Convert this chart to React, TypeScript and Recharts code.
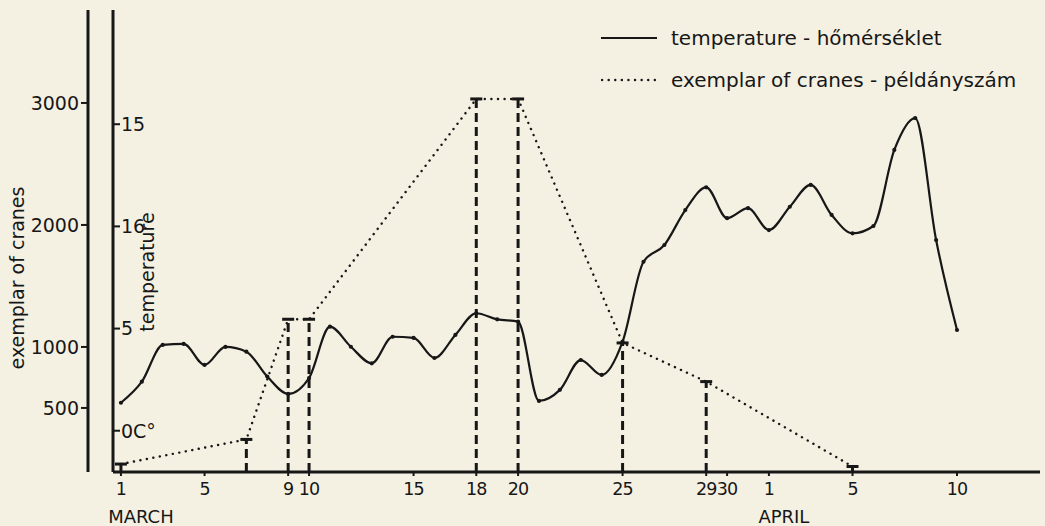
import React from 'react';
import { LineChart, Line, XAxis, YAxis, ReferenceLine, Legend, Label } from 'recharts';

// ---- data ----
const days = [1, 2, 3, 4, 5, 6, 7, 8, 9, 10, 11, 12, 13, 14, 15, 16, 17, 18, 19, 20, 21, 22, 23, 24, 25, 26, 27, 28, 29, 30, 31, 32, 33, 34, 35, 36, 37, 38, 39, 40, 41];
const temperature = [1.37, 2.4, 4.2, 4.25, 3.22, 4.1, 3.87, 2.65, 1.8, 2.58, 5.09, 4.11, 3.3, 4.6, 4.54, 3.56, 4.69, 5.75, 5.45, 5.34, 1.46, 2.0, 3.46, 2.73, 4.36, 8.27, 9.09, 10.8, 11.91, 10.4, 10.89, 9.82, 10.96, 12.03, 10.56, 9.66, 10.02, 13.74, 15.3, 9.33, 4.93];
const craneDays = [1, 7, 9, 10, 18, 20, 25, 29, 36];
const craneCounts = [40, 242, 1227, 1227, 3033, 3033, 1033, 716, 20];

const xTicks = [1, 5, 9, 10, 15, 18, 20, 25, 29, 30, 32, 36, 41];
const xTickLabels = ['1', '5', '9', '10', '15', '18', '20', '25', '29', '30', '1', '5', '10'];
const monthTickDays = [1, 32];
const monthLabels = ['MARCH', 'APRIL'];
const craneTicks = [500, 1000, 2000, 3000];
const tempTicks = [0, 5, 10, 15];
const tempTickLabels = ['0C°', '5', '16', '15'];
const seriesNames = ['temperature - hőmérséklet', 'exemplar of cranes - példányszám'];
const axisTitles = ['exemplar of cranes', 'temperature'];

// ---- domains / styling ----
const X_DOMAIN: [number, number] = [0.62, 44.97];
const CRANE_DOMAIN: [number, number] = [-25, 3762];
const TEMP_DOMAIN: [number, number] = [-2.02, 20.59];
const INK = '#171717';
const BG = '#f4f0e2';
const FONT = '"DejaVu Sans", sans-serif';
const FS = 19;
const TEMP_ID = 'a_temp';
const CRANE_ID = 'b_crane';

const tempData = days.map((d, i) => ({ day: d, t: temperature[i] }));
const craneData = craneDays.map((d, i) => ({ day: d, c: craneCounts[i] }));

const XTick = (p: any) => {
  const { x, y, payload } = p;
  const i = xTicks.indexOf(payload.value);
  const m = monthTickDays.indexOf(payload.value);
  return (
    <g>
      <text x={x} y={y} dy="0.72em" textAnchor="middle" fontSize={17.5} letterSpacing={-0.9} fontFamily={FONT} fill={INK}>
        {xTickLabels[i]}
      </text>
      {m >= 0 && (
        <text x={x + (m === 0 ? 20 : 15)} y={y + 41} textAnchor="middle" fontSize={18} fontFamily={FONT} fill={INK}>
          {monthLabels[m]}
        </text>
      )}
    </g>
  );
};

const TempTick = (p: any) => {
  const { x, y, payload } = p;
  const i = tempTicks.indexOf(payload.value);
  return (
    <g>
      <line x1={x} x2={x + 7} y1={y} y2={y} stroke={INK} strokeWidth={2} />
      <text x={x + 8} y={y} dy="0.36em" textAnchor="start" fontSize={FS} fontFamily={FONT} fill={INK}>
        {tempTickLabels[i]}
      </text>
    </g>
  );
};

const CraneDot = (p: any) => {
  const { cx, cy, index } = p;
  if (cx == null || cy == null) return <g key={`cd-${index}`} />;
  return <line key={`cd-${index}`} x1={cx - 6} x2={cx + 6} y1={cy} y2={cy} stroke={INK} strokeWidth={3} />;
};

const TempDot = (p: any) => {
  const { cx, cy, index } = p;
  if (cx == null || cy == null) return <g key={`td-${index}`} />;
  return <circle key={`td-${index}`} cx={cx} cy={cy} r={2.1} fill={INK} />;
};

const LegendContent = () => (
  <div style={{ fontFamily: FONT, fontSize: 20, color: INK }}>
    {seriesNames.map((n, i) => (
      <div key={n} style={{ display: 'flex', alignItems: 'center', height: 42, whiteSpace: 'nowrap' }}>
        <svg width={58} height={10} style={{ marginRight: 12 }}>
          {i === 0 ? (
            <line x1={0} x2={56} y1={5} y2={5} stroke={INK} strokeWidth={2.2} />
          ) : (
            <line x1={1} x2={57} y1={5} y2={5} stroke={INK} strokeWidth={2.4} strokeDasharray="0.1 6.5" strokeLinecap="round" />
          )}
        </svg>
        <span>{n}</span>
      </div>
    ))}
  </div>
);

export default function App() {
  return (
    <div style={{ position: 'absolute', left: 0, top: 0, width: 1045, height: 526, background: BG }}>
      <LineChart width={1045} height={526} margin={{ top: 10, right: 5, bottom: 0, left: 0 }}>
        <XAxis
          dataKey="day"
          type="number"
          domain={X_DOMAIN}
          ticks={xTicks}
          interval={0}
          allowDataOverflow
          height={54}
          axisLine={{ stroke: INK, strokeWidth: 3 }}
          tickLine={{ stroke: INK, strokeWidth: 2 }}
          tickSize={4}
          tickMargin={6}
          tick={<XTick />}
        />
        <YAxis
          yAxisId={TEMP_ID}
          orientation="left"
          type="number"
          domain={TEMP_DOMAIN}
          ticks={tempTicks}
          interval={0}
          allowDataOverflow
          width={25}
          axisLine={{ stroke: INK, strokeWidth: 3 }}
          tickLine={false}
          tickSize={0}
          tickMargin={0}
          tick={<TempTick />}
        >
          <Label
            content={(p: any) => {
              const vb = p.viewBox || { x: 88, y: 10, width: 25, height: 462 };
              const cx = vb.x + vb.width + 34;
              const cy = vb.y + vb.height / 2 + 31;
              return (
                <text x={cx} y={cy} transform={`rotate(-90 ${cx} ${cy})`} textAnchor="middle" dominantBaseline="central" fontSize={FS} fontFamily={FONT} fill={INK}>
                  {axisTitles[1]}
                </text>
              );
            }}
          />
        </YAxis>
        <YAxis
          yAxisId={CRANE_ID}
          orientation="left"
          type="number"
          domain={CRANE_DOMAIN}
          ticks={craneTicks}
          interval={0}
          allowDataOverflow
          width={88}
          axisLine={{ stroke: INK, strokeWidth: 3 }}
          tickLine={{ stroke: INK, strokeWidth: 2 }}
          tickSize={7}
          tickMargin={2}
          tick={{ fontSize: FS, fontFamily: FONT, fill: INK }}
        >
          <Label
            content={(p: any) => {
              const vb = p.viewBox || { x: 0, y: 10, width: 88, height: 462 };
              const cx = vb.x + 17;
              const cy = vb.y + vb.height / 2 + 37;
              return (
                <text x={cx} y={cy} transform={`rotate(-90 ${cx} ${cy})`} textAnchor="middle" dominantBaseline="central" fontSize={FS} fontFamily={FONT} fill={INK}>
                  {axisTitles[0]}
                </text>
              );
            }}
          />
        </YAxis>
        <Legend
          layout="vertical"
          align="center"
          verticalAlign="middle"
          content={<LegendContent />}
          wrapperStyle={{ left: 601, top: 17, width: 440, right: 'auto', bottom: 'auto' }}
        />
        {craneDays.map((d, i) => (
          <ReferenceLine
            key={`v-${d}`}
            yAxisId={CRANE_ID}
            segment={[
              { x: d, y: CRANE_DOMAIN[0] },
              { x: d, y: craneCounts[i] },
            ]}
            stroke={INK}
            strokeWidth={3}
            strokeDasharray="9 5"
            ifOverflow="visible"
          />
        ))}
        <Line
          yAxisId={TEMP_ID}
          data={tempData}
          dataKey="t"
          name={seriesNames[0]}
          type="monotone"
          stroke={INK}
          strokeWidth={2.2}
          dot={TempDot}
          activeDot={false}
          isAnimationActive={false}
        />
        <Line
          yAxisId={CRANE_ID}
          data={craneData}
          dataKey="c"
          name={seriesNames[1]}
          type="linear"
          stroke={INK}
          strokeWidth={2.4}
          strokeDasharray="0.1 6.5"
          strokeLinecap="round"
          dot={CraneDot}
          activeDot={false}
          isAnimationActive={false}
        />
      </LineChart>
    </div>
  );
}
